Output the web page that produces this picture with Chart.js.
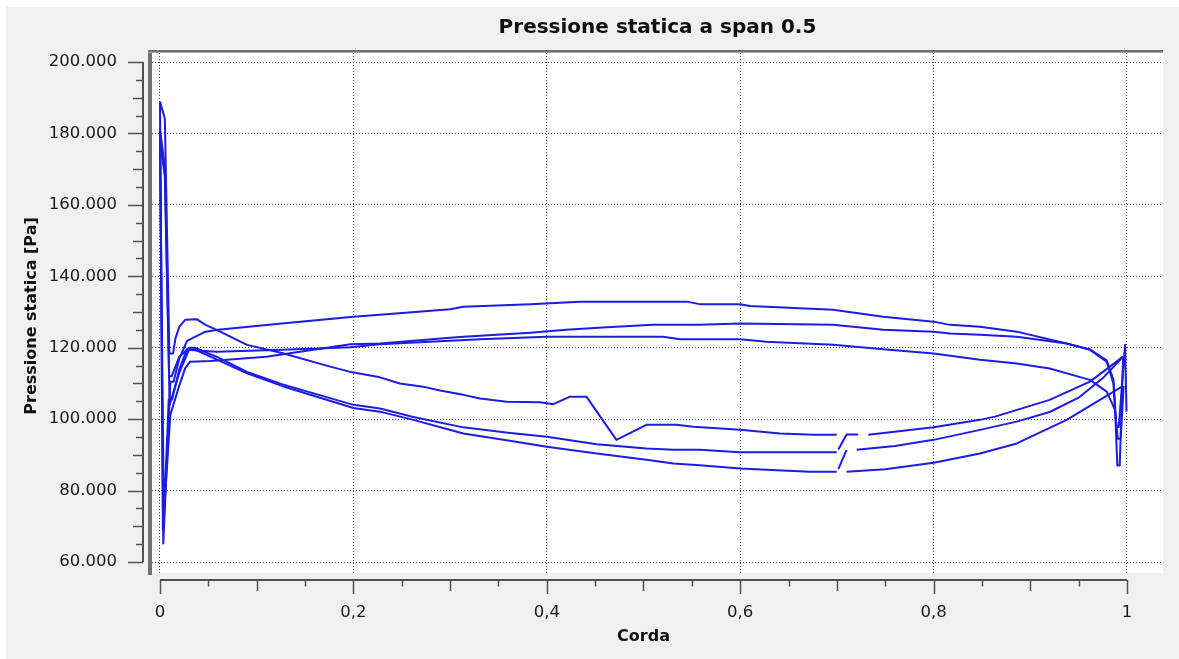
<!DOCTYPE html>
<html>
<head>
<meta charset="utf-8">
<title>Pressione statica a span 0.5</title>
<script src="https://cdn.jsdelivr.net/npm/chart.js@4.4.1/dist/chart.umd.min.js"></script>
<style>
  html, body { margin: 0; padding: 0; background: #f0f0f0; }
  canvas { display: block; }
</style>
</head>
<body>
<canvas id="chart" width="1179" height="659"></canvas>
<script>
// Axis ticks and their printed labels
const xTicks = [0, 0.2, 0.4, 0.6, 0.8, 1];
const xTickLabels = ['0', '0,2', '0,4', '0,6', '0,8', '1'];
const yTicks = [60000, 80000, 100000, 120000, 140000, 160000, 180000, 200000];
const yTickLabels = ['60.000', '80.000', '100.000', '120.000', '140.000', '160.000', '180.000', '200.000'];

// Static pressure [Pa] along the chord, three blade passages (A, B, C).
// Pressure side A
const pressA_x = [0, 0.0034, 0.0107, 0.014, 0.02, 0.028, 0.047, 0.06, 0.126, 0.2, 0.2275, 0.3, 0.3137, 0.383, 0.434, 0.5447, 0.558, 0.6, 0.61, 0.696, 0.748, 0.8, 0.817, 0.848, 0.886, 0.9376, 0.9617, 0.979, 0.986, 0.988, 0.990, 0.9925, 0.996];
const pressA_y = [188900, 65200, 110500, 110500, 117000, 121900, 124500, 125000, 126800, 128700, 129200, 130800, 131500, 132200, 132900, 132900, 132200, 132200, 131700, 130600, 128700, 127300, 126400, 125900, 124500, 121200, 119400, 116100, 110000, 100700, 87000, 87000, 117500];
// Suction side A (up to the interface at 0.7, then downstream of it)
const suctA_x = [0, 0.005, 0.0097, 0.0135, 0.016, 0.02, 0.026, 0.038, 0.047, 0.0586, 0.09, 0.126, 0.176, 0.196, 0.2275, 0.248, 0.272, 0.2896, 0.3137, 0.331, 0.3585, 0.393, 0.4067, 0.424, 0.441, 0.472, 0.503, 0.534, 0.5515, 0.6, 0.641, 0.676, 0.6998];
const suctA_y = [188900, 184200, 118400, 118400, 122600, 125900, 127800, 128000, 126400, 125000, 120800, 118500, 114700, 113300, 111700, 110000, 109100, 108000, 106800, 105800, 104900, 104700, 104200, 106300, 106300, 94200, 98400, 98400, 97900, 97000, 96000, 95600, 95600];
const suctA2_x = [0.7325, 0.8, 0.848, 0.8635, 0.92, 0.9617, 0.996];
const suctA2_y = [95600, 97700, 99800, 100700, 105400, 110500, 117500];

// Pressure side B
const pressB_x = [0, 0.003, 0.0107, 0.019, 0.026, 0.031, 0.052, 0.11, 0.197, 0.2275, 0.3, 0.3137, 0.383, 0.42, 0.462, 0.51, 0.558, 0.6, 0.696, 0.748, 0.8, 0.817, 0.848, 0.886, 0.9376, 0.962, 0.979, 0.986, 0.989, 0.9915, 0.998, 0.9995];
const pressB_y = [181000, 69000, 101200, 108600, 114200, 116100, 116300, 117500, 121000, 121200, 122800, 123100, 124200, 125000, 125700, 126400, 126400, 126800, 126400, 125000, 124500, 124000, 123600, 123100, 121200, 119500, 116500, 111000, 97800, 97800, 120800, 102100];
// Suction side B
const suctB_x = [0, 0.005, 0.0095, 0.012, 0.02, 0.03, 0.036, 0.06, 0.09, 0.126, 0.2, 0.2275, 0.262, 0.3137, 0.36, 0.4, 0.4516, 0.503, 0.531, 0.558, 0.6, 0.6998];
const suctB_y = [181000, 170700, 112000, 112000, 117500, 120000, 120000, 117300, 113200, 109800, 104000, 103000, 100600, 97700, 96200, 95100, 93000, 91800, 91400, 91400, 90700, 90700];
const suctB_jump_x = [0.7015, 0.710, 0.722];
const suctB_jump_y = [91500, 95700, 95700];
const suctB2_x = [0.7204, 0.76, 0.8, 0.848, 0.886, 0.92, 0.95, 0.975, 0.996];
const suctB2_y = [91400, 92500, 94200, 97000, 99300, 102000, 106000, 111500, 117500];

// Pressure side C
const pressC_x = [0, 0.004, 0.009, 0.0124, 0.02, 0.0276, 0.0586, 0.127, 0.197, 0.2275, 0.331, 0.4, 0.52, 0.538, 0.6, 0.627, 0.696, 0.748, 0.8, 0.848, 0.886, 0.92, 0.9617, 0.979, 0.9876, 0.9905, 0.9935, 0.9965];
const pressC_y = [178000, 72000, 105400, 105400, 114000, 119400, 118900, 119400, 120100, 121000, 122400, 123100, 123100, 122400, 122400, 121700, 120800, 119600, 118400, 116600, 115600, 114200, 111000, 107700, 102600, 94500, 94500, 109300];
// Suction side C
const suctC_x = [0, 0.005, 0.01, 0.02, 0.03, 0.036, 0.06, 0.09, 0.126, 0.2, 0.2275, 0.262, 0.3137, 0.36, 0.4, 0.4516, 0.503, 0.531, 0.558, 0.6, 0.627, 0.672, 0.6998];
const suctC_y = [178000, 168000, 104000, 113000, 119500, 119500, 116500, 112800, 109300, 103100, 102100, 99800, 96000, 94000, 92300, 90400, 88600, 87600, 87100, 86200, 85800, 85300, 85300];
const suctC_jump_x = [0.7015, 0.710];
const suctC_jump_y = [86000, 91400];
const suctC2_x = [0.710, 0.75, 0.8, 0.848, 0.886, 0.9376, 0.972, 0.996];
const suctC2_y = [85300, 86000, 87800, 90400, 93200, 99800, 105400, 109300];

const curves = [
  [pressA_x, pressA_y], [suctA_x, suctA_y], [suctA2_x, suctA2_y],
  [pressB_x, pressB_y], [suctB_x, suctB_y], [suctB_jump_x, suctB_jump_y], [suctB2_x, suctB2_y],
  [pressC_x, pressC_y], [suctC_x, suctC_y], [suctC_jump_x, suctC_jump_y], [suctC2_x, suctC2_y]
];

const LINE_BLUE = 'rgb(28, 28, 226)';
const FONT = 'DejaVu Sans';

const datasets = curves.map(([xs, ys]) => ({
  data: xs.map((x, i) => ({ x: x, y: ys[i] })),
  borderColor: LINE_BLUE,
  borderWidth: 2,
  pointRadius: 0,
  tension: 0,
  fill: false,
  showLine: true,
  borderJoinStyle: 'round'
}));

// Panel background, sunken plot frame, outside axes with major/minor ticks and axis titles
const framePlugin = {
  id: 'frame',
  beforeDraw(chart) {
    const ctx = chart.ctx;
    const a = chart.chartArea;
    ctx.save();
    ctx.fillStyle = '#ffffff';
    ctx.fillRect(0, 0, chart.width, chart.height);
    ctx.fillStyle = '#f0f0f0';
    ctx.fillRect(6, 7, chart.width - 6, chart.height - 7);
    ctx.fillStyle = '#ffffff';
    ctx.fillRect(a.left, a.top, a.right - a.left, a.bottom - a.top);
    ctx.fillStyle = '#707070';
    ctx.fillRect(a.left - 4, a.top - 3, a.right - a.left + 4, 3);
    ctx.fillRect(a.left - 4, a.top - 3, 4, a.bottom - a.top + 5);
    ctx.fillStyle = '#a8a8a8';
    ctx.fillRect(a.left - 4, a.top - 1, a.right - a.left + 4, 1);
    ctx.restore();
  },
  afterDraw(chart) {
    const ctx = chart.ctx;
    const xs = chart.scales.x;
    const ys = chart.scales.y;
    const axisX = 143;   // vertical axis line position
    const axisY = 580;   // horizontal axis line position
    ctx.save();
    ctx.strokeStyle = '#505050';
    ctx.lineWidth = 2;
    ctx.beginPath();
    ctx.moveTo(axisX, ys.getPixelForValue(yTicks[yTicks.length - 1]));
    ctx.lineTo(axisX, ys.getPixelForValue(yTicks[0]));
    ctx.moveTo(xs.getPixelForValue(xTicks[0]), axisY);
    ctx.lineTo(xs.getPixelForValue(xTicks[xTicks.length - 1]), axisY);
    ctx.stroke();

    ctx.lineWidth = 1.5;
    ctx.beginPath();
    for (let k = 0; k <= 28; k++) {
      const v = 60000 + k * 5000;
      const len = k % 4 === 0 ? 15 : (k % 2 === 0 ? 10 : 7);
      const py = Math.round(ys.getPixelForValue(v)) + 0.5;
      ctx.moveTo(axisX, py);
      ctx.lineTo(axisX - len, py);
    }
    for (let k = 0; k <= 20; k++) {
      const v = k * 0.05;
      const len = k % 4 === 0 ? 14 : (k % 2 === 0 ? 11 : 6.5);
      const px = Math.round(xs.getPixelForValue(v)) + 0.5;
      ctx.moveTo(px, axisY);
      ctx.lineTo(px, axisY + len);
    }
    ctx.stroke();

    ctx.fillStyle = '#111111';
    ctx.font = 'bold 16px "' + FONT + '"';
    ctx.textAlign = 'center';
    ctx.textBaseline = 'middle';
    ctx.fillText('Corda', xs.getPixelForValue(0.5), 637);
    ctx.translate(32, 316);
    ctx.rotate(-Math.PI / 2);
    ctx.fillText('Pressione statica [Pa]', 0, 0);
    ctx.restore();
  }
};

new Chart(document.getElementById('chart'), {
  type: 'scatter',
  data: { datasets: datasets },
  options: {
    responsive: false,
    animation: false,
    devicePixelRatio: 1,
    layout: { padding: { left: 0, right: 16, top: 0, bottom: 0 } },
    plugins: {
      legend: { display: false },
      tooltip: { enabled: false },
      title: {
        display: true,
        fullSize: false,
        text: 'Pressione statica a span 0.5',
        color: '#111111',
        font: { family: FONT, size: 20, weight: 'bold', lineHeight: 1.2 },
        padding: { top: 16, bottom: 13 }
      }
    },
    scales: {
      x: {
        type: 'linear',
        position: 'bottom',
        min: -0.00827,
        max: 1.03723,
        afterBuildTicks: (scale) => { scale.ticks = xTicks.map(v => ({ value: v })); },
        afterFit: (scale) => { scale.height = 86; },
        grid: { color: '#444444', lineWidth: 1, drawTicks: false },
        border: { display: false, dash: [1, 2] },
        ticks: {
          color: '#1a1a1a',
          font: { family: FONT, size: 16.5 },
          padding: 30,
          maxRotation: 0,
          autoSkip: false,
          callback: (value, index) => xTickLabels[index]
        }
      },
      y: {
        type: 'linear',
        position: 'left',
        min: 56920,
        max: 202520,
        afterBuildTicks: (scale) => { scale.ticks = yTicks.map(v => ({ value: v })); },
        afterFit: (scale) => { scale.width = 152; },
        grid: { color: '#444444', lineWidth: 1, drawTicks: false },
        border: { display: false, dash: [1, 2] },
        ticks: {
          color: '#1a1a1a',
          font: { family: FONT, size: 16.5 },
          padding: 35,
          autoSkip: false,
          callback: (value, index) => yTickLabels[index]
        }
      }
    }
  },
  plugins: [framePlugin]
});
</script>
</body>
</html>
